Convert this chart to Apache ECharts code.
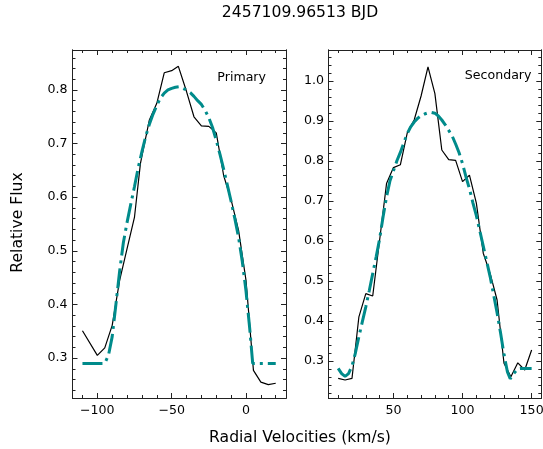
<!DOCTYPE html>
<html>
<head>
<meta charset="utf-8">
<script src="https://cdn.jsdelivr.net/npm/echarts@6/dist/echarts.min.js"></script>
<style>
html,body{margin:0;padding:0;background:#fff;}
#chart{width:543px;height:449px;}
</style>
</head>
<body>
<div id="chart"></div>
<script>
// ---- Data ----
const primObsX = [-110, -100, -95, -90, -85, -80, -75, -71, -65, -60, -55, -50, -45.5, -40, -35, -30, -25, -20, -15, -10, -5, 0, 5, 10, 15, 20];
const primObsY = [0.351, 0.305, 0.319, 0.361, 0.445, 0.504, 0.563, 0.663, 0.744, 0.775, 0.832, 0.836, 0.844, 0.797, 0.750, 0.733, 0.732, 0.720, 0.640, 0.595, 0.538, 0.445, 0.277, 0.255, 0.2505, 0.253];

const primFitX = [-110, -105, -100, -95, -92.5, -90, -87.5, -85, -82.5, -80, -77.5, -75, -72.5, -70, -67.5, -65, -62.5, -60, -57.5, -55, -52.5, -50, -47.5, -45, -42.5, -40, -37.5, -35, -32.5, -30, -27.5, -25, -22.5, -20, -17.5, -15, -12.5, -10, -7.5, -5, -2.5, 0, 2.5, 4.5, 10, 15, 20];
const primFitY = [0.29, 0.29, 0.29, 0.29, 0.305, 0.34, 0.40, 0.462, 0.515, 0.553, 0.587, 0.62, 0.655, 0.685, 0.713, 0.736, 0.755, 0.771, 0.785, 0.794, 0.800, 0.803, 0.805, 0.806, 0.803, 0.800, 0.795, 0.788, 0.780, 0.773, 0.762, 0.748, 0.730, 0.706, 0.680, 0.652, 0.622, 0.592, 0.560, 0.525, 0.480, 0.425, 0.355, 0.29, 0.29, 0.29, 0.29];

const secObsX = [10, 15, 20, 25, 30, 35, 40, 45, 50, 55, 60, 65, 70, 75, 80, 85, 90, 95, 100, 105, 110, 115, 120, 125, 130, 135, 140, 145, 150];
const secObsY = [0.256, 0.252, 0.256, 0.410, 0.468, 0.462, 0.602, 0.743, 0.783, 0.790, 0.870, 0.902, 0.962, 1.035, 0.968, 0.827, 0.803, 0.801, 0.748, 0.764, 0.694, 0.569, 0.518, 0.452, 0.294, 0.260, 0.295, 0.277, 0.327];

const secFitX = [10, 12.5, 15, 17.5, 20, 22.5, 25, 27.5, 30, 32.5, 35, 37.5, 40, 42.5, 45, 47.5, 50, 52.5, 55, 57.5, 60, 62.5, 65, 67.5, 70, 72.5, 75, 77.5, 80, 82.5, 85, 87.5, 90, 92.5, 95, 97.5, 100, 102.5, 105, 107.5, 110, 112.5, 115, 117.5, 120, 122.5, 125, 127.5, 130, 132.5, 134.5, 137.5, 140, 142.5, 150];
const secFitY = [0.281, 0.268, 0.261, 0.268, 0.287, 0.32, 0.36, 0.398, 0.435, 0.475, 0.518, 0.56, 0.605, 0.66, 0.71, 0.75, 0.775, 0.80, 0.821, 0.845, 0.868, 0.885, 0.897, 0.906, 0.913, 0.917, 0.920, 0.921, 0.919, 0.912, 0.902, 0.890, 0.876, 0.862, 0.842, 0.820, 0.793, 0.760, 0.730, 0.695, 0.663, 0.625, 0.587, 0.548, 0.510, 0.465, 0.420, 0.370, 0.316, 0.272, 0.255, 0.270, 0.280, 0.281, 0.281];

// Tick labels
const primXTicks = [-100, -50, 0];
const primYTicks = [0.3, 0.4, 0.5, 0.6, 0.7, 0.8];
const secXTicks = [50, 100, 150];
const secYTicks = [0.3, 0.4, 0.5, 0.6, 0.7, 0.8, 0.9, 1.0];

// Text
const titleText = '2457109.96513 BJD';
const xLabelText = 'Radial Velocities (km/s)';
const yLabelText = 'Relative Flux';
const panelNames = ['Primary', 'Secondary'];

// ---- helpers ----
function range(a, b, step) {
  const out = [];
  const n = Math.round((b - a) / step);
  for (let i = 0; i <= n; i++) out.push(+(a + i * step).toFixed(6));
  return out;
}
function pairs(xs, ys) { return xs.map((x, i) => [x, ys[i]]); }

const FRAME = '#222';
const TXT = '#000';
const FONT = 'DejaVu Sans';

function makeAxes(dim, gridIndex, min, max, majors, minors, fmt, labelMargin) {
  const posMain = dim === 'x' ? 'bottom' : 'left';
  const posOpp = dim === 'x' ? 'top' : 'right';
  const base = (pos, vals, len, showLabel) => ({
    type: 'value', gridIndex: gridIndex, position: pos, min: min, max: max,
    axisLine: { show: true, onZero: false, lineStyle: { color: FRAME, width: 1 } },
    axisTick: { show: true, inside: true, length: len, customValues: vals, lineStyle: { color: FRAME, width: 1 } },
    axisLabel: showLabel ? { show: true, customValues: vals, formatter: fmt, color: TXT, fontFamily: FONT, fontSize: 12.6, margin: labelMargin, hideOverlap: false } : { show: false },
    splitLine: { show: false },
    minorTick: { show: false }
  });
  return [
    base(posMain, majors, 5, true),
    base(posMain, minors, 3, false),
    base(posOpp, majors, 5, false),
    base(posOpp, minors, 3, false)
  ];
}

const fmtX = v => String(Math.round(v)).replace('-', '\u2212');
const fmtY = v => Number(v).toFixed(1);

const xAxes = [].concat(
  makeAxes('x', 0, -116.7, 26.9, primXTicks, range(-110, 20, 10), fmtX, 6),
  makeAxes('x', 1, 3, 157, secXTicks, range(10, 150, 10), fmtX, 6)
);
const yAxes = [].concat(
  makeAxes('y', 0, 0.2255, 0.8745, primYTicks, range(0.24, 0.86, 0.02), fmtY, 5),
  makeAxes('y', 1, 0.207, 1.077, secYTicks, range(0.22, 1.06, 0.02), fmtY, 4.5)
);

const TEAL = '#008b8b';
const dash = [20, 5, 3, 5];

const option = {
  animation: false,
  backgroundColor: '#fff',
  grid: [
    { left: 72.5, top: 50, width: 213.5, height: 348, outerBoundsMode: 'none', containLabel: false },
    { left: 328.5, top: 50, width: 212.8, height: 348, outerBoundsMode: 'none', containLabel: false }
  ],
  xAxis: xAxes,
  yAxis: yAxes,
  series: [
    { type: 'line', xAxisIndex: 0, yAxisIndex: 0, data: pairs(primObsX, primObsY), showSymbol: false, symbol: 'none',
      lineStyle: { color: '#000', width: 1.2 }, z: 2 },
    { type: 'line', xAxisIndex: 0, yAxisIndex: 0, data: pairs(primFitX, primFitY), showSymbol: false, symbol: 'none',
      lineStyle: { color: TEAL, width: 3, type: dash, cap: 'butt' }, z: 3 },
    { type: 'line', xAxisIndex: 4, yAxisIndex: 4, data: pairs(secObsX, secObsY), showSymbol: false, symbol: 'none',
      lineStyle: { color: '#000', width: 1.2 }, z: 2 },
    { type: 'line', xAxisIndex: 4, yAxisIndex: 4, data: pairs(secFitX, secFitY), showSymbol: false, symbol: 'none',
      lineStyle: { color: TEAL, width: 3, type: dash, cap: 'butt' }, z: 3 }
  ],
  graphic: [
    { type: 'text', x: 300, y: 12.7, style: { text: titleText, font: '15.6px "DejaVu Sans"', fill: TXT, align: 'center', verticalAlign: 'middle' } },
    { type: 'text', x: 300, y: 438, style: { text: xLabelText, font: '15.6px "DejaVu Sans"', fill: TXT, align: 'center', verticalAlign: 'middle' } },
    { type: 'text', x: 18.3, y: 222.5, rotation: Math.PI / 2, style: { text: yLabelText, font: '15.6px "DejaVu Sans"', fill: TXT, align: 'center', verticalAlign: 'middle' } },
    { type: 'text', x: 266, y: 77.3, style: { text: panelNames[0], font: '12.6px "DejaVu Sans"', fill: TXT, align: 'right', verticalAlign: 'middle' } },
    { type: 'text', x: 531.5, y: 76, style: { text: panelNames[1], font: '12.6px "DejaVu Sans"', fill: TXT, align: 'right', verticalAlign: 'middle' } }
  ]
};

const chart = echarts.init(document.getElementById('chart'), null, { renderer: 'canvas' });
chart.setOption(option);
</script>
</body>
</html>
